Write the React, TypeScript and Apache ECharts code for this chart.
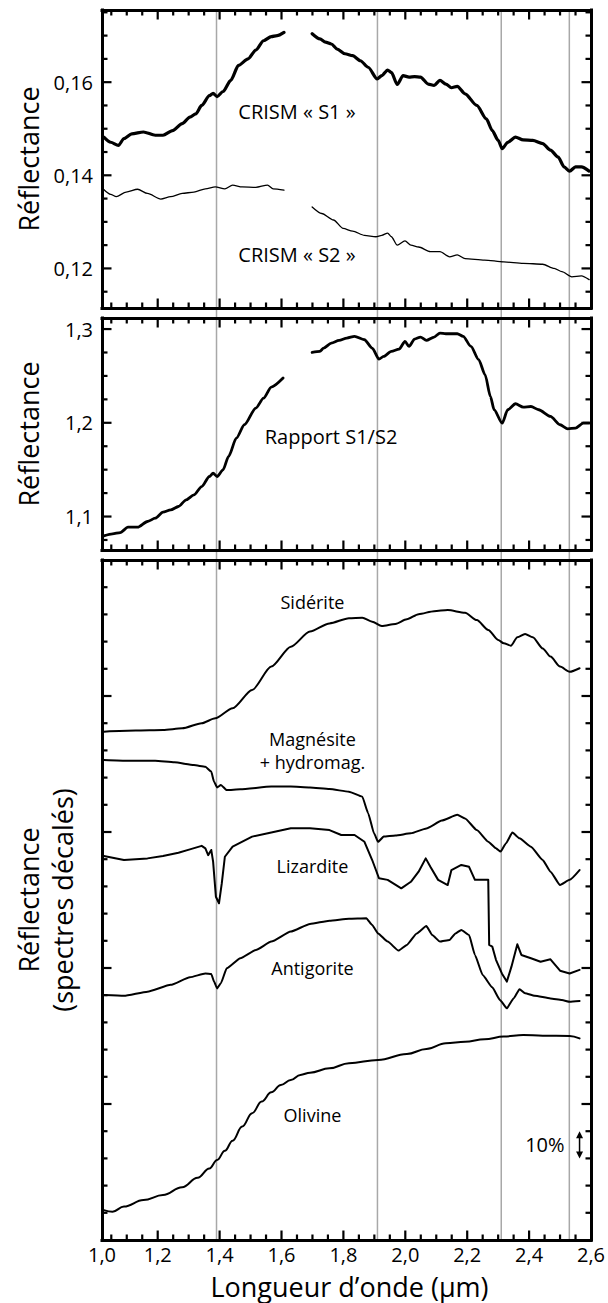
import React, { useEffect, useRef } from "react";
import * as echarts from "echarts";

const FONT = "'Open Sans', 'Noto Sans', sans-serif";

// ---------- X axis (wavelength, µm) ----------
const X_MIN = 1.02;
const X_MAX = 2.6;
const xLabelValues = [1.02, 1.2, 1.4, 1.6, 1.8, 2.0, 2.2, 2.4, 2.6];
const xTickLabels = ["1,0", "1,2", "1,4", "1,6", "1,8", "2,0", "2,2", "2,4", "2,6"];
const xMajorTicks = [1.2, 1.4, 1.6, 1.8, 2.0, 2.2, 2.4];
const xMinorTicks = [1.05, 1.1, 1.15, 1.25, 1.3, 1.35, 1.45, 1.5, 1.55, 1.65, 1.7, 1.75, 1.85, 1.9, 1.95, 2.05, 2.1, 2.15, 2.25, 2.3, 2.35, 2.45, 2.5, 2.55];
const absorptionBands = [1.39, 1.91, 2.31, 2.53];

// ---------- Panel 1 : CRISM S1 / S2 ----------
const p1Range = [0.1115, 0.1755];
const p1MajorTicks = [0.12, 0.14, 0.16];
const p1TickLabels = ["0,12", "0,14", "0,16"];
const p1MinorTicks = [0.115, 0.125, 0.13, 0.135, 0.145, 0.15, 0.155, 0.165, 0.17, 0.175];

const s1Short: [number, number][] = [
  [1.026, 0.1482], [1.048, 0.1471], [1.073, 0.1464], [1.091, 0.1479], [1.116, 0.1489], [1.154, 0.1493],
  [1.192, 0.1486], [1.217, 0.1486], [1.248, 0.1496], [1.279, 0.1511], [1.304, 0.1525], [1.323, 0.1532],
  [1.342, 0.155], [1.367, 0.1571], [1.379, 0.1576], [1.392, 0.1569], [1.411, 0.158], [1.436, 0.1604],
  [1.461, 0.1636], [1.492, 0.165], [1.517, 0.1669], [1.542, 0.1689], [1.567, 0.1698], [1.586, 0.17], [1.608, 0.1707],
];
const s1Long: [number, number][] = [
  [1.699, 0.1704], [1.724, 0.1693], [1.742, 0.1686], [1.761, 0.1682], [1.78, 0.1671], [1.805, 0.1661],
  [1.83, 0.1657], [1.855, 0.1646], [1.88, 0.1632], [1.909, 0.1607], [1.924, 0.1614], [1.943, 0.1626],
  [1.955, 0.1621], [1.974, 0.1595], [1.993, 0.1614], [2.012, 0.1611], [2.03, 0.1612], [2.049, 0.1611],
  [2.074, 0.1596], [2.093, 0.1593], [2.112, 0.1604], [2.131, 0.1596], [2.149, 0.1588], [2.168, 0.1591],
  [2.193, 0.1575], [2.231, 0.155], [2.262, 0.1521], [2.281, 0.1496], [2.3, 0.1475], [2.313, 0.1457],
  [2.331, 0.1471], [2.356, 0.1482], [2.381, 0.1476], [2.412, 0.1475], [2.444, 0.1468], [2.469, 0.1454],
  [2.494, 0.1439], [2.513, 0.1418], [2.531, 0.1409], [2.55, 0.1418], [2.569, 0.1418], [2.594, 0.1409],
];
const s2Short: [number, number][] = [
  [1.023, 0.1371], [1.048, 0.1359], [1.066, 0.1354], [1.098, 0.1364], [1.135, 0.137], [1.167, 0.1361],
  [1.21, 0.1349], [1.242, 0.1354], [1.279, 0.1361], [1.317, 0.1364], [1.354, 0.1371], [1.386, 0.1375],
  [1.417, 0.1371], [1.442, 0.1379], [1.473, 0.1375], [1.517, 0.1374], [1.555, 0.1379], [1.573, 0.1371], [1.608, 0.1368],
];
const s2Long: [number, number][] = [
  [1.699, 0.1332], [1.73, 0.1318], [1.768, 0.1304], [1.799, 0.1286], [1.83, 0.128], [1.868, 0.1271],
  [1.905, 0.1268], [1.924, 0.1271], [1.943, 0.1276], [1.955, 0.1268], [1.974, 0.125], [1.999, 0.1259],
  [2.018, 0.125], [2.043, 0.1246], [2.081, 0.1236], [2.112, 0.1236], [2.143, 0.1225], [2.168, 0.1229],
  [2.193, 0.1221], [2.256, 0.1218], [2.318, 0.1214], [2.381, 0.1211], [2.444, 0.1209], [2.481, 0.12],
  [2.506, 0.1193], [2.538, 0.1182], [2.569, 0.1184], [2.594, 0.1176],
];

// ---------- Panel 2 : ratio S1/S2 ----------
const p2Range = [1.0643, 1.3118];
const p2MajorTicks = [1.1, 1.2, 1.3];
const p2TickLabels = ["1,1", "1,2", "1,3"];
const p2MinorTicks = [1.075, 1.125, 1.15, 1.175, 1.225, 1.25, 1.275];

const ratioShort: [number, number][] = [
  [1.026, 1.0794], [1.054, 1.0815], [1.079, 1.0829], [1.104, 1.0886], [1.135, 1.0886], [1.167, 1.0947],
  [1.192, 1.0982], [1.217, 1.1046], [1.242, 1.1071], [1.267, 1.1107], [1.292, 1.1178], [1.317, 1.1231],
  [1.342, 1.132], [1.367, 1.1427], [1.379, 1.1463], [1.392, 1.1427], [1.411, 1.1498], [1.429, 1.1641],
  [1.454, 1.1836], [1.48, 1.1979], [1.517, 1.2157], [1.542, 1.2263], [1.567, 1.2381], [1.605, 1.2477],
];
const ratioLong: [number, number][] = [
  [1.699, 1.2751], [1.724, 1.2762], [1.736, 1.2797], [1.761, 1.285], [1.786, 1.2879], [1.811, 1.2904],
  [1.836, 1.2922], [1.868, 1.2886], [1.893, 1.2797], [1.915, 1.268], [1.93, 1.2708], [1.955, 1.2762],
  [1.98, 1.2786], [1.999, 1.2868], [2.012, 1.2815], [2.03, 1.2893], [2.049, 1.2915], [2.068, 1.2879],
  [2.093, 1.2915], [2.112, 1.2957], [2.131, 1.295], [2.168, 1.295], [2.187, 1.2922], [2.212, 1.2815],
  [2.237, 1.2673], [2.258, 1.2512], [2.275, 1.2281], [2.287, 1.2139], [2.313, 1.1996], [2.331, 1.2139],
  [2.356, 1.2203], [2.381, 1.2167], [2.406, 1.2174], [2.431, 1.2139], [2.469, 1.2068], [2.5, 1.1979],
  [2.525, 1.1936], [2.55, 1.1943], [2.575, 1.1996], [2.594, 1.1996],
];

// ---------- Panel 3 : reference spectra (offset) ----------
const p3Range = [0, 2.5];
const p3MajorTicks = [0.5, 1, 1.5, 2];
const p3MinorTicks = [0.1, 0.2, 0.3, 0.4, 0.6, 0.7, 0.8, 0.9, 1.1, 1.2, 1.3, 1.4, 1.6, 1.7, 1.8, 1.9, 2.1, 2.2, 2.3, 2.4];

const siderite: [number, number][] = [
  [1.026, 1.869], [1.129, 1.873], [1.217, 1.875], [1.279, 1.881], [1.342, 1.9], [1.386, 1.918],
  [1.442, 1.955], [1.505, 2.022], [1.567, 2.108], [1.63, 2.181], [1.692, 2.237], [1.755, 2.267],
  [1.818, 2.286], [1.861, 2.288], [1.893, 2.273], [1.924, 2.257], [1.968, 2.265], [2.005, 2.282],
  [2.043, 2.301], [2.093, 2.312], [2.137, 2.316], [2.193, 2.306], [2.231, 2.279], [2.268, 2.243],
  [2.3, 2.206], [2.318, 2.194], [2.341, 2.185], [2.362, 2.216], [2.387, 2.228], [2.412, 2.216],
  [2.444, 2.175], [2.469, 2.145], [2.5, 2.108], [2.531, 2.089], [2.563, 2.102],
];
const magnesite: [number, number][] = [
  [1.026, 1.765], [1.104, 1.762], [1.192, 1.762], [1.254, 1.756], [1.317, 1.746], [1.354, 1.74],
  [1.373, 1.722], [1.382, 1.685], [1.392, 1.664], [1.404, 1.673], [1.423, 1.654], [1.467, 1.657],
  [1.567, 1.667], [1.63, 1.667], [1.692, 1.664], [1.755, 1.658], [1.818, 1.648], [1.861, 1.63],
  [1.88, 1.569], [1.899, 1.495], [1.912, 1.464], [1.93, 1.483], [1.968, 1.487], [2.018, 1.495],
  [2.068, 1.513], [2.118, 1.542], [2.168, 1.563], [2.193, 1.55], [2.231, 1.507], [2.268, 1.464],
  [2.293, 1.44], [2.308, 1.428], [2.325, 1.458], [2.346, 1.498], [2.369, 1.477], [2.406, 1.446],
  [2.444, 1.397], [2.469, 1.354], [2.5, 1.305], [2.531, 1.324], [2.563, 1.36],
];
const lizardite: [number, number][] = [
  [1.026, 1.412], [1.091, 1.397], [1.167, 1.403], [1.217, 1.412], [1.267, 1.424], [1.304, 1.436],
  [1.342, 1.449], [1.354, 1.44], [1.363, 1.415], [1.373, 1.434], [1.379, 1.391], [1.388, 1.262],
  [1.398, 1.238], [1.407, 1.311], [1.417, 1.409], [1.442, 1.446], [1.505, 1.483], [1.567, 1.498],
  [1.63, 1.514], [1.692, 1.514], [1.755, 1.507], [1.793, 1.489], [1.836, 1.489], [1.868, 1.464],
  [1.893, 1.397], [1.915, 1.33], [1.943, 1.324], [1.987, 1.293], [2.018, 1.317], [2.043, 1.354],
  [2.066, 1.403], [2.081, 1.372], [2.106, 1.324], [2.137, 1.305], [2.149, 1.36], [2.181, 1.379],
  [2.206, 1.372], [2.225, 1.324], [2.268, 1.324], [2.271, 1.085], [2.281, 1.079], [2.293, 1.03],
  [2.312, 0.98], [2.328, 0.95], [2.343, 1.005], [2.362, 1.087], [2.375, 1.048], [2.406, 1.036],
  [2.437, 1.023], [2.469, 1.032], [2.5, 0.99], [2.531, 0.98], [2.563, 0.993],
];
const antigorite: [number, number][] = [
  [1.026, 0.901], [1.091, 0.898], [1.167, 0.913], [1.242, 0.938], [1.304, 0.966], [1.354, 0.98],
  [1.373, 0.978], [1.382, 0.95], [1.392, 0.925], [1.404, 0.944], [1.423, 0.999], [1.467, 1.036],
  [1.517, 1.066], [1.567, 1.097], [1.63, 1.134], [1.692, 1.162], [1.755, 1.174], [1.818, 1.181],
  [1.874, 1.183], [1.893, 1.158], [1.912, 1.127], [1.943, 1.097], [1.978, 1.064], [2.005, 1.085],
  [2.037, 1.127], [2.068, 1.154], [2.087, 1.121], [2.112, 1.097], [2.143, 1.103], [2.162, 1.127],
  [2.181, 1.14], [2.206, 1.121], [2.225, 1.048], [2.25, 0.974], [2.281, 0.929], [2.306, 0.882],
  [2.328, 0.852], [2.35, 0.888], [2.369, 0.922], [2.387, 0.907], [2.418, 0.898], [2.469, 0.888],
  [2.506, 0.882], [2.531, 0.876], [2.563, 0.879],
];
const olivine: [number, number][] = [
  [1.026, 0.11], [1.054, 0.104], [1.091, 0.123], [1.154, 0.147], [1.217, 0.165], [1.279, 0.194],
  [1.329, 0.229], [1.367, 0.263], [1.392, 0.294], [1.417, 0.328], [1.442, 0.365], [1.473, 0.417],
  [1.505, 0.466], [1.536, 0.509], [1.567, 0.543], [1.598, 0.57], [1.63, 0.588], [1.661, 0.607],
  [1.692, 0.615], [1.755, 0.631], [1.818, 0.65], [1.912, 0.662], [2.005, 0.684], [2.068, 0.702],
  [2.131, 0.723], [2.193, 0.729], [2.256, 0.738], [2.318, 0.748], [2.381, 0.754], [2.444, 0.751],
  [2.531, 0.75], [2.563, 0.741],
];

// ---------- annotation anchors (data coordinates) ----------
const curveLabels = [
  { panel: 0, text: "CRISM « S1 »", x: 1.65, y: 0.1537, size: 20 },
  { panel: 0, text: "CRISM « S2 »", x: 1.65, y: 0.1229, size: 20 },
  { panel: 1, text: "Rapport S1/S2", x: 1.76, y: 1.1853, size: 20 },
  { panel: 2, text: "Sidérite", x: 1.7, y: 2.344, size: 18 },
  { panel: 2, text: "Magnésite", x: 1.7, y: 1.842, size: 18 },
  { panel: 2, text: "+ hydromag.", x: 1.7, y: 1.756, size: 18 },
  { panel: 2, text: "Lizardite", x: 1.7, y: 1.375, size: 18 },
  { panel: 2, text: "Antigorite", x: 1.7, y: 0.999, size: 18 },
  { panel: 2, text: "Olivine", x: 1.7, y: 0.458, size: 18 },
];
const scaleBar = { x: 2.563, from: 0.3, to: 0.4, label: "10%", labelX: 2.451 };

const GRIDS = [
  { left: 102, top: 10, width: 489, height: 298 },
  { left: 102, top: 318, width: 489, height: 232 },
  { left: 102, top: 560, width: 489, height: 680 },
];

const panelY = [
  { range: p1Range, major: p1MajorTicks, minor: p1MinorTicks, labels: p1TickLabels as string[] | null },
  { range: p2Range, major: p2MajorTicks, minor: p2MinorTicks, labels: p2TickLabels as string[] | null },
  { range: p3Range, major: p3MajorTicks, minor: p3MinorTicks, labels: null as string[] | null },
];

const lookup = (values: number[], labels: string[]) => (v: number) => {
  const i = values.findIndex((x) => Math.abs(x - v) < 1e-9);
  return i >= 0 ? labels[i] : "";
};

const frameLine = { show: true, onZero: false, lineStyle: { color: "#000", width: 3, cap: "square" } };

function makeX(g: number, showLabels: boolean) {
  const base = { type: "value", gridIndex: g, min: X_MIN, max: X_MAX, splitLine: { show: false }, axisTick: { show: false } };
  const label = showLabels
    ? { show: true, customValues: xLabelValues, formatter: lookup(xLabelValues, xTickLabels), fontSize: 20, lineHeight: 20, fontFamily: FONT, color: "#000", margin: 4 }
    : { show: false };
  return [
    { ...base, position: "bottom", axisLine: frameLine, axisLabel: label },
    { ...base, position: "top", axisLine: frameLine, axisLabel: { show: false } },
  ];
}

function makeY(g: number) {
  const p = panelY[g];
  const base = { type: "value", gridIndex: g, min: p.range[0], max: p.range[1], splitLine: { show: false }, axisTick: { show: false } };
  const label = p.labels
    ? { show: true, customValues: p.major, formatter: lookup(p.major, p.labels), fontSize: 20, fontFamily: FONT, color: "#000", margin: 9 }
    : { show: false };
  return [
    { ...base, position: "left", axisLine: frameLine, axisLabel: label },
    { ...base, position: "right", axisLine: frameLine, axisLabel: { show: false } },
  ];
}

function line(g: number, data: [number, number][], width: number, smooth: number | boolean) {
  return {
    type: "line",
    xAxisIndex: 2 * g,
    yAxisIndex: 2 * g,
    data,
    symbol: "none",
    showSymbol: false,
    smooth,
    smoothMonotone: "x",
    silent: true,
    z: 3,
    lineStyle: { color: "#000", width, join: "round", cap: "round" },
  };
}

export default function App() {
  const ref = useRef<HTMLDivElement>(null);

  useEffect(() => {
    if (!ref.current) return;
    const chart = echarts.init(ref.current, null, { renderer: "svg", width: 608, height: 1303 });

    const option: any = {
      animation: false,
      backgroundColor: "#fff",
      grid: GRIDS.map((g) => ({ ...g, containLabel: false, outerBoundsMode: "none" })),
      xAxis: [...makeX(0, false), ...makeX(1, false), ...makeX(2, true)],
      yAxis: [...makeY(0), ...makeY(1), ...makeY(2)],
      series: [
        line(0, s1Short, 3.2, 0.25),
        line(0, s1Long, 3.2, 0.25),
        line(0, s2Short, 1.3, 0.25),
        line(0, s2Long, 1.3, 0.25),
        line(1, ratioShort, 2.8, 0.25),
        line(1, ratioLong, 2.8, 0.25),
        line(2, siderite, 2, 0.25),
        line(2, magnesite, 2, 0.15),
        line(2, lizardite, 2, false),
        line(2, antigorite, 2, 0.15),
        line(2, olivine, 2, 0.4),
      ],
    };
    chart.setOption(option);

    const toPx = (g: number, x: number, y: number) =>
      chart.convertToPixel({ xAxisIndex: 2 * g, yAxisIndex: 2 * g } as any, [x, y]) as number[];

    const elements: any[] = [];

    // tick marks (inside, on all four sides), positioned through the axes' scales
    const tick = (x1: number, y1: number, x2: number, y2: number) => ({
      type: "line",
      silent: true,
      z: 5,
      shape: { x1, y1, x2, y2 },
      style: { stroke: "#000", lineWidth: 2.2 },
    });
    GRIDS.forEach((_, g) => {
      const p = panelY[g];
      const [left, bottom] = toPx(g, X_MIN, p.range[0]);
      const [right, top] = toPx(g, X_MAX, p.range[1]);
      const xt = (vals: number[], len: number) =>
        vals.forEach((v) => {
          const x = toPx(g, v, p.range[0])[0];
          elements.push(tick(x, bottom, x, bottom - len));
          elements.push(tick(x, top, x, top + len));
        });
      const yt = (vals: number[], len: number) =>
        vals.forEach((v) => {
          const y = toPx(g, X_MIN, v)[1];
          elements.push(tick(left, y, left + len, y));
          elements.push(tick(right, y, right - len, y));
        });
      xt(xMajorTicks, 9.5);
      xt(xMinorTicks, 5.5);
      yt(p.major, 9.5);
      yt(p.minor, 5.5);
    });

    // absorption band guides running through all three panels
    const top = toPx(0, X_MIN, p1Range[1])[1];
    const bottom = toPx(2, X_MIN, p3Range[0])[1];
    absorptionBands.forEach((b) => {
      const x = toPx(0, b, p1Range[0])[0];
      elements.push({
        type: "line",
        silent: true,
        z: -1,
        shape: { x1: x, y1: top, x2: x, y2: bottom },
        style: { stroke: "#a8a8a8", lineWidth: 1.5 },
      });
    });

    curveLabels.forEach((l) => {
      const [x, y] = toPx(l.panel, l.x, l.y);
      elements.push({
        type: "text",
        silent: true,
        x,
        y,
        style: { text: l.text, fill: "#000", fontSize: l.size, fontFamily: FONT, align: "center", verticalAlign: "middle" },
      });
    });

    // scale bar 10 %
    const [ax, ayTop] = toPx(2, scaleBar.x, scaleBar.to);
    const ayBot = toPx(2, scaleBar.x, scaleBar.from)[1];
    elements.push({
      type: "line",
      silent: true,
      shape: { x1: ax, y1: ayTop + 5, x2: ax, y2: ayBot - 5 },
      style: { stroke: "#000", lineWidth: 1.5 },
    });
    elements.push({
      type: "polygon",
      silent: true,
      shape: { points: [[ax, ayTop], [ax - 3.5, ayTop + 7], [ax + 3.5, ayTop + 7]] },
      style: { fill: "#000" },
    });
    elements.push({
      type: "polygon",
      silent: true,
      shape: { points: [[ax, ayBot], [ax - 3.5, ayBot - 7], [ax + 3.5, ayBot - 7]] },
      style: { fill: "#000" },
    });
    const [lx, ly] = toPx(2, scaleBar.labelX, (scaleBar.from + scaleBar.to) / 2);
    elements.push({
      type: "text",
      silent: true,
      x: lx,
      y: ly,
      style: { text: scaleBar.label, fill: "#000", fontSize: 20, fontFamily: FONT, align: "center", verticalAlign: "middle" },
    });

    // axis titles
    const yTitle = (text: string, x: number, y: number) => ({
      type: "text",
      silent: true,
      x,
      y,
      rotation: Math.PI / 2,
      style: { text, fill: "#000", fontSize: 27, fontFamily: FONT, align: "center", verticalAlign: "middle" },
    });
    elements.push(yTitle("Réflectance", 28, GRIDS[0].top + GRIDS[0].height / 2));
    elements.push(yTitle("Réflectance", 28, GRIDS[1].top + GRIDS[1].height / 2));
    elements.push(yTitle("Réflectance", 28, GRIDS[2].top + GRIDS[2].height / 2));
    elements.push(yTitle("(spectres décalés)", 62, GRIDS[2].top + GRIDS[2].height / 2));
    elements.push({
      type: "text",
      silent: true,
      x: GRIDS[2].left + GRIDS[2].width / 2 + 3,
      y: 1286,
      style: { text: "Longueur d’onde (µm)", fill: "#000", fontSize: 27, lineHeight: 28, fontFamily: FONT, align: "center", verticalAlign: "middle" },
    });

    chart.setOption({ graphic: { elements } });

    return () => chart.dispose();
  }, []);

  return (
    <div
      ref={ref}
      style={{ position: "absolute", left: 0, top: 0, width: 608, height: 1303, background: "#fff" }}
    />
  );
}
